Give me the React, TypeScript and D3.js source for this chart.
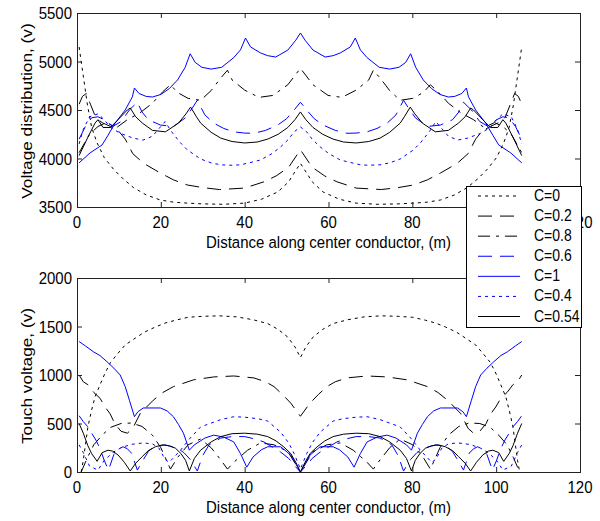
import * as d3 from 'd3';

type Pt = [number, number];

const seriesNames = ['C=0', 'C=0.2', 'C=0.8', 'C=0.6', 'C=1', 'C=0.4', 'C=0.54'];
const seriesColors = ['#000', '#000', '#000', '#0000ff', '#0000ff', '#0000ff', '#000'];
const seriesDash = ['3,4', '14,8', '12,6,3,6', '14,8', '', '3,4', ''];

const xTicks = [0, 20, 40, 60, 80, 100, 120];
const topYTicks = [3500, 4000, 4500, 5000, 5500];
const bottomYTicks = [0, 500, 1000, 1500, 2000];

// voltage distribution (top panel)
const topC0: Pt[] = [
  [0.5, 5150], [1.5, 4850], [2.5, 4550], [3.5, 4320], [4.8, 4160], [6.5, 4010], [8.7, 3890], [11, 3790],
  [13.5, 3700], [16.5, 3625], [19.9, 3572], [23, 3550], [26.3, 3540], [30, 3532], [35, 3528], [40, 3540],
  [44, 3580], [47.9, 3655], [50.5, 3760], [51.8, 3850], [53.3, 3950],
  [54.8, 3850], [56.1, 3760], [58.7, 3655], [62.6, 3580], [66.6, 3540], [71.6, 3528], [76.6, 3532],
  [80.3, 3540], [83.6, 3550], [86.7, 3572], [90.1, 3625], [93.1, 3700], [95.6, 3790], [97.9, 3890],
  [100.1, 4010], [101.8, 4160], [103.1, 4320], [104.1, 4550], [105.1, 4850], [106.1, 5150],
];
const topC02: Pt[] = [
  [0.5, 4560], [1.3, 4640], [2.2, 4670], [3.2, 4560], [4.5, 4420], [6, 4370], [8, 4330], [10, 4280],
  [11.5, 4200], [13.3, 4050], [15.9, 3950], [19.9, 3850], [23, 3780], [26.3, 3727], [30, 3700], [34, 3680],
  [40, 3695], [44.6, 3760], [47.5, 3820], [50.5, 3910], [53.3, 4090],
  [56.1, 3910], [59.1, 3820], [62, 3760], [66.6, 3695], [72.6, 3680], [76.6, 3700], [80.3, 3727],
  [83.6, 3780], [86.7, 3850], [90.7, 3950], [93.3, 4050], [95.1, 4200], [96.6, 4280], [98.6, 4330],
  [100.6, 4370], [102.1, 4420], [103.4, 4560], [104.4, 4670], [105.3, 4640], [106.1, 4560],
];
const topC08: Pt[] = [
  [0.5, 4060], [3, 4250], [5, 4330], [7, 4370], [9.5, 4320], [12, 4400], [15, 4470], [18, 4570],
  [20.5, 4690], [22.3, 4760], [24, 4680], [26.5, 4620], [29.5, 4600], [32, 4700], [34.3, 4830],
  [35.9, 4910], [37, 4810], [40, 4705], [43.4, 4630], [46.7, 4650], [50.3, 4760], [53.3, 4930],
  [56.3, 4760], [59.9, 4650], [63.2, 4630], [66.6, 4705], [69.6, 4810], [70.7, 4910], [72.3, 4830],
  [74.6, 4700], [77.1, 4600], [80.1, 4620], [82.6, 4680], [84.3, 4760], [86.1, 4690], [88.6, 4570],
  [91.6, 4470], [94.6, 4400], [97.1, 4320], [99.6, 4370], [101.6, 4330], [103.6, 4250], [106.1, 4060],
];
const topC06: Pt[] = [
  [0.5, 4200], [2, 4330], [3.5, 4420], [5, 4430], [6.5, 4400], [8.5, 4330], [10.5, 4380], [12.5, 4500],
  [14.4, 4580], [15.5, 4480], [17, 4400], [19.9, 4345], [23, 4330], [25.9, 4420], [27.5, 4520],
  [28.7, 4600], [30.5, 4450], [32.6, 4365], [35, 4310], [37.4, 4275], [40, 4262], [42.2, 4260],
  [45, 4290], [47.9, 4345], [50, 4410], [51.8, 4500], [53.3, 4580],
  [54.8, 4500], [56.6, 4410], [58.7, 4345], [61.6, 4290], [64.4, 4260], [66.6, 4262], [69.2, 4275],
  [71.6, 4310], [74, 4365], [76.1, 4450], [77.9, 4600], [79.1, 4520], [80.7, 4420], [83.6, 4330],
  [86.7, 4345], [89.6, 4400], [91.1, 4480], [92.2, 4580], [94.1, 4500], [96.1, 4380], [98.1, 4330],
  [100.1, 4400], [101.6, 4430], [103.1, 4420], [104.6, 4330], [106.1, 4200],
];
const topC1: Pt[] = [
  [0.5, 3955], [3.1, 4057], [6, 4140], [7.4, 4240], [9.1, 4365], [11.5, 4500], [13.2, 4635], [13.7, 4727],
  [14.8, 4670], [16.5, 4640], [18, 4634], [20, 4660], [22, 4720], [24, 4810], [25.8, 4940], [27, 5080],
  [28.2, 4990], [29.8, 4940], [32, 4922], [34.5, 4940], [37.4, 5040], [39, 5120], [40.2, 5242],
  [41.4, 5150], [43.8, 5088], [45.5, 5060], [47.4, 5046], [50.3, 5118], [52.2, 5220], [53.3, 5294],
  [54.4, 5220], [56.3, 5118], [59.2, 5046], [61.1, 5060], [62.8, 5088], [65.2, 5150], [66.4, 5242],
  [67.6, 5120], [69.2, 5040], [72.1, 4940], [74.6, 4922], [76.8, 4940], [78.4, 4990], [79.6, 5080],
  [80.8, 4940], [82.6, 4810], [84.6, 4720], [86.6, 4660], [88.6, 4634], [90.1, 4640], [91.8, 4670],
  [92.9, 4727], [93.4, 4635], [95.1, 4500], [97.5, 4365], [99.2, 4240], [100.6, 4140], [103.5, 4057],
  [106.1, 3955],
];
const topC04: Pt[] = [
  [0.5, 4150], [1.5, 4300], [3, 4430], [5, 4460], [6.5, 4400], [8, 4320], [10.3, 4260], [13.4, 4210],
  [15.8, 4190], [18, 4230], [20, 4330], [21, 4380], [22.5, 4280], [24.5, 4170], [26.3, 4090],
  [29.5, 3995], [32, 3955], [34.3, 3935], [37, 3930], [39, 3935], [41.5, 3960], [43.8, 3985],
  [46.5, 4050], [48.6, 4120], [50.5, 4200], [51.8, 4275], [53.3, 4325],
  [54.8, 4275], [56.1, 4200], [58, 4120], [60.1, 4050], [62.8, 3985], [65.1, 3960], [67.6, 3935],
  [69.6, 3930], [72.3, 3935], [74.6, 3955], [77.1, 3995], [80.3, 4090], [82.1, 4170], [84.1, 4280],
  [85.6, 4380], [86.6, 4330], [88.6, 4230], [90.8, 4190], [93.2, 4210], [96.3, 4260], [98.6, 4320],
  [100.1, 4400], [101.6, 4460], [103.6, 4430], [105.1, 4300], [106.1, 4150],
];
const topC054: Pt[] = [
  [0.5, 4030], [2.6, 4220], [4.3, 4365], [5, 4400], [6.2, 4320], [8, 4320], [9.8, 4400], [12, 4500],
  [12.7, 4520], [14, 4430], [15.6, 4365], [18, 4290], [21.1, 4275], [24.2, 4365], [26, 4460],
  [27.1, 4530], [28.5, 4430], [29.5, 4365], [32, 4270], [34.3, 4210], [37, 4175], [40, 4160],
  [43, 4170], [45.5, 4200], [48, 4250], [50.3, 4320], [52, 4400], [53.3, 4480],
  [54.6, 4400], [56.3, 4320], [58.6, 4250], [61.1, 4200], [63.6, 4170], [66.6, 4160], [69.6, 4175],
  [72.3, 4210], [74.6, 4270], [77.1, 4365], [78.1, 4430], [79.5, 4530], [80.6, 4460], [82.4, 4365],
  [85.5, 4275], [88.6, 4290], [91, 4365], [92.6, 4430], [93.9, 4520], [94.6, 4500], [96.8, 4400],
  [98.6, 4320], [100.4, 4320], [101.6, 4400], [102.3, 4365], [104, 4220], [106.1, 4030],
];

// touch voltage (bottom panel)
const botC0: Pt[] = [
  [1, 0], [1.5, 120], [2.6, 465], [3.5, 640], [4.3, 775], [5.5, 900], [6.7, 1020], [8, 1130],
  [9.8, 1225], [11.5, 1310], [13.9, 1380], [16, 1440], [18.7, 1495], [21, 1535], [23.5, 1565],
  [26.5, 1595], [30, 1605], [34, 1610], [38, 1600], [42, 1570], [45.5, 1530], [48, 1470], [50.3, 1390],
  [52, 1290], [53.3, 1180],
  [54.6, 1290], [56.3, 1390], [58.6, 1470], [61.1, 1530], [64.6, 1570], [68.6, 1600], [72.6, 1610],
  [76.6, 1605], [80.1, 1595], [83.1, 1565], [85.6, 1535], [87.9, 1495], [90.6, 1440], [92.7, 1380],
  [95.1, 1310], [96.8, 1225], [98.6, 1130], [99.9, 1020], [101.1, 900], [102.3, 775], [103.1, 640],
  [104, 465], [105.1, 120], [105.6, 0],
];
const botC02: Pt[] = [
  [0.5, 1000], [1.5, 930], [2.6, 900], [4, 820], [5.5, 760], [6.7, 670], [7.9, 600], [9, 500],
  [10.5, 420], [12, 400], [13.3, 450], [15.1, 605], [18.2, 740], [20.5, 820], [23, 880], [27.8, 950],
  [32.6, 980], [37.4, 990], [42.2, 970], [45, 930], [47, 880], [49, 800], [51, 710], [53.3, 575],
  [55.6, 710], [57.6, 800], [59.6, 880], [61.6, 930], [64.4, 970], [69.2, 990], [74, 980], [78.8, 950],
  [83.6, 880], [86.1, 820], [88.4, 740], [91.5, 605], [93.3, 450], [94.6, 400], [96.1, 420],
  [97.6, 500], [98.7, 600], [99.9, 670], [101.1, 760], [102.6, 820], [104, 900], [105.1, 930],
  [106.1, 1000],
];
const botC08: Pt[] = [
  [1, 0], [2.5, 150], [4, 280], [6, 380], [8, 460], [10.5, 500], [13, 505], [15.5, 470], [18, 380],
  [20, 250], [22.3, 30], [24, 150], [26.5, 280], [29.5, 340], [32, 250], [34.3, 125], [35.9, 30],
  [37.4, 100], [40.7, 225], [43.8, 300], [47, 280], [50.3, 210], [53.3, 0],
  [56.3, 210], [59.6, 280], [62.8, 300], [65.9, 225], [69.2, 100], [70.7, 30], [72.3, 125],
  [74.6, 250], [77.1, 340], [80.1, 280], [82.6, 150], [84.3, 30], [86.6, 250], [88.6, 380],
  [91.1, 470], [93.6, 505], [96.1, 500], [98.6, 460], [100.6, 380], [102.6, 280], [104.1, 150],
  [105.6, 0],
];
const botC06: Pt[] = [
  [0.5, 580], [1.5, 520], [2.6, 465], [3.5, 400], [4.5, 330], [5.5, 240], [6.5, 120], [7.5, 20],
  [8.8, 180], [10, 240], [11, 260], [12, 240], [13, 195], [14.4, 20], [15.8, 125], [17, 210],
  [18.2, 255], [21, 280], [23.9, 245], [25.5, 200], [27, 130], [28.7, 10], [30, 170], [31.5, 280],
  [34.3, 350], [37, 365], [40, 365], [42.5, 340], [44.6, 310], [46.5, 260], [48.6, 205], [50.5, 140],
  [51.8, 70], [53.3, 0],
  [54.8, 70], [56.1, 140], [58, 205], [60.1, 260], [62, 310], [64.1, 340], [66.6, 365], [69.6, 365],
  [72.3, 350], [75.1, 280], [76.6, 170], [77.9, 10], [79.6, 130], [81.1, 200], [82.7, 245],
  [85.6, 280], [88.4, 255], [89.6, 210], [90.8, 125], [92.2, 20], [93.6, 195], [94.6, 240],
  [95.6, 260], [96.6, 240], [97.8, 180], [99.1, 20], [100.1, 120], [101.1, 240], [102.1, 330],
  [103.1, 400], [104, 465], [105.1, 520], [106.1, 580],
];
const botC1: Pt[] = [
  [0.5, 1345], [2, 1300], [3.9, 1240], [5.5, 1200], [7.2, 1135], [8.8, 1070], [10.3, 1000],
  [11.5, 880], [12.5, 740], [13.7, 570], [14.5, 620], [15.8, 660], [19.9, 660], [21.5, 630], [23, 570],
  [24.2, 490], [25.4, 400], [26.8, 225], [28, 280], [30.5, 350], [32.6, 380], [35, 360], [37.4, 310],
  [39, 190], [40.5, 50], [42, 155], [44, 230], [45.5, 260], [48.6, 260], [51, 175], [53.3, 0],
  [55.6, 175], [58, 260], [61.1, 260], [62.6, 230], [64.6, 155], [66.1, 50], [67.6, 190], [69.2, 310],
  [71.6, 360], [74, 380], [76.1, 350], [78.6, 280], [79.8, 225], [81.2, 400], [82.4, 490], [83.6, 570],
  [85.1, 630], [86.7, 660], [90.8, 660], [92.1, 620], [92.9, 570], [94.1, 740], [95.1, 880],
  [96.3, 1000], [97.8, 1070], [99.4, 1135], [101.1, 1200], [102.7, 1240], [104.6, 1300], [106.1, 1345],
];
const botC04: Pt[] = [
  [0.5, 280], [1.5, 200], [3, 60], [5, 20], [6.5, 120], [8.5, 200], [10.5, 250], [13, 285],
  [15.8, 300], [18, 290], [19.5, 250], [21, 130], [22, 100], [23.5, 170], [24.7, 225], [27, 350],
  [29.5, 465], [34.3, 540], [37.4, 570], [40, 565], [43.1, 550], [45.5, 525], [48.6, 410],
  [50.5, 300], [51.8, 190], [53.3, 30],
  [54.8, 190], [56.1, 300], [58, 410], [61.1, 525], [63.5, 550], [66.6, 565], [69.2, 570],
  [72.3, 540], [77.1, 465], [79.6, 350], [81.9, 225], [83.1, 170], [84.6, 100], [85.6, 130],
  [87.1, 250], [88.6, 290], [90.8, 300], [93.6, 285], [96.1, 250], [98.1, 200], [100.1, 120],
  [101.6, 20], [103.6, 60], [105.1, 200], [106.1, 280],
];
const botC054: Pt[] = [
  [0.5, 500], [1.5, 400], [2.6, 270], [3.5, 190], [4.8, 110], [6, 200], [7.4, 225], [8.5, 215],
  [9.8, 175], [11.3, 100], [12.7, 10], [14, 90], [15.6, 160], [17, 220], [18.7, 260], [20.4, 280],
  [22, 270], [23.5, 245], [24.8, 190], [25.9, 120], [26.8, 10], [28, 140], [29.5, 225], [32, 310],
  [34.3, 365], [37, 395], [40, 400], [43, 390], [45.5, 365], [47.5, 320], [49.3, 260], [51, 190],
  [52.2, 100], [53.3, 0],
  [54.4, 100], [55.6, 190], [57.3, 260], [59.1, 320], [61.1, 365], [63.6, 390], [66.6, 400],
  [69.6, 395], [72.3, 365], [74.6, 310], [77.1, 225], [78.6, 140], [79.8, 10], [80.7, 120],
  [81.8, 190], [83.1, 245], [84.6, 270], [86.2, 280], [87.9, 260], [89.6, 220], [91, 160], [92.6, 90],
  [93.9, 10], [95.3, 100], [96.8, 175], [98.1, 215], [99.2, 225], [100.6, 200], [101.8, 110],
  [103.1, 190], [104, 270], [105.1, 400], [106.1, 500],
];

const topSeries = [topC0, topC02, topC08, topC06, topC1, topC04, topC054];
const bottomSeries = [botC0, botC02, botC08, botC06, botC1, botC04, botC054];

const FONT = '"Liberation Sans", Arial, Helvetica, sans-serif';
const STRETCH = 1.15; // source picture is slightly taller than wide
const X0 = 77;
const X1 = 580;

function Panel({ id, series, yDomain, yTicks, top, bottom, xLabel, yLabel }: {
  id: string; series: Pt[][]; yDomain: [number, number]; yTicks: number[];
  top: number; bottom: number; xLabel: string; yLabel: string;
}) {
  const x = d3.scaleLinear().domain([0, 120]).range([X0, X1]);
  const y = d3.scaleLinear().domain(yDomain).range([bottom, top]);
  const line = d3.line<Pt>().x(d => x(d[0])).y(d => y(d[1]));
  const tick = 5;
  return (
    <g>
      <clipPath id={id}>
        <rect x={X0} y={top} width={X1 - X0} height={bottom - top} />
      </clipPath>
      <rect x={X0} y={top} width={X1 - X0} height={bottom - top} fill="#fff" />
      <g clipPath={`url(#${id})`}>
        {series.map((s, i) => (
          <path key={i} d={line(s) || ''} fill="none" stroke={seriesColors[i]} strokeWidth={1}
            strokeDasharray={seriesDash[i] || undefined} />
        ))}
      </g>
      <rect x={X0 + 0.5} y={top + 0.5} width={X1 - X0} height={bottom - top} fill="none" stroke="#222" strokeWidth={1} />
      {xTicks.map(t => (
        <g key={'x' + t}>
          <line x1={x(t) + 0.5} x2={x(t) + 0.5} y1={bottom} y2={bottom - tick} stroke="#222" />
          <line x1={x(t) + 0.5} x2={x(t) + 0.5} y1={top} y2={top + tick} stroke="#222" />
          <text transform={`translate(${x(t)},${bottom + 21}) scale(1,${STRETCH})`} textAnchor="middle"
            fontSize={15} fontFamily={FONT} fill="#000">{t}</text>
        </g>
      ))}
      {yTicks.map(t => (
        <g key={'y' + t}>
          <line x1={X0} x2={X0 + tick} y1={y(t) + 0.5} y2={y(t) + 0.5} stroke="#222" />
          <line x1={X1} x2={X1 - tick} y1={y(t) + 0.5} y2={y(t) + 0.5} stroke="#222" />
          <text transform={`translate(${X0 - 5},${y(t) + 6}) scale(1,${STRETCH})`} textAnchor="end"
            fontSize={15} fontFamily={FONT} fill="#000">{t}</text>
        </g>
      ))}
      <text transform={`translate(${(X0 + X1) / 2},${bottom + 41}) scale(1,${STRETCH})`} textAnchor="middle"
        fontSize={15} fontFamily={FONT} fill="#000">{xLabel}</text>
      <text transform={`translate(32,${(top + bottom) / 2 + 1}) rotate(-90) scale(${STRETCH},1)`} textAnchor="middle"
        fontSize={15} fontFamily={FONT} fill="#000">{yLabel}</text>
    </g>
  );
}

function Legend() {
  const left = 466;
  const topY = 186;
  const rowY = d3.scaleLinear().domain([0, seriesNames.length - 1]).range([topY + 9.5, topY + 130]);
  return (
    <g>
      <rect x={left + 0.5} y={topY + 0.5} width={115} height={141} fill="#fff" stroke="#000" strokeWidth={1} />
      {seriesNames.map((n, i) => (
        <g key={n}>
          <line x1={left + 12} x2={left + 54} y1={rowY(i) + 0.5} y2={rowY(i) + 0.5} stroke={seriesColors[i]}
            strokeWidth={1} strokeDasharray={seriesDash[i] || undefined} />
          <text transform={`translate(${left + 68},${rowY(i) + 5.5}) scale(1,${STRETCH})`} fontSize={14}
            fontFamily={FONT} fill="#000">{n}</text>
        </g>
      ))}
    </g>
  );
}

export default function App() {
  return (
    <div style={{ position: 'absolute', left: 0, top: 0, width: 600, height: 521, background: '#fff' }}>
      <svg width={600} height={521} style={{ display: 'block' }}>
        <rect width={600} height={521} fill="#fff" />
        <Panel id="clipTop" series={topSeries} yDomain={[3500, 5500]} yTicks={topYTicks} top={13} bottom={207}
          xLabel="Distance along center conductor, (m)" yLabel="Voltage distribution, (v)" />
        <Panel id="clipBottom" series={bottomSeries} yDomain={[0, 2000]} yTicks={bottomYTicks} top={278} bottom={472}
          xLabel="Distance along center conductor, (m)" yLabel="Touch voltage, (v)" />
        <Legend />
      </svg>
    </div>
  );
}
